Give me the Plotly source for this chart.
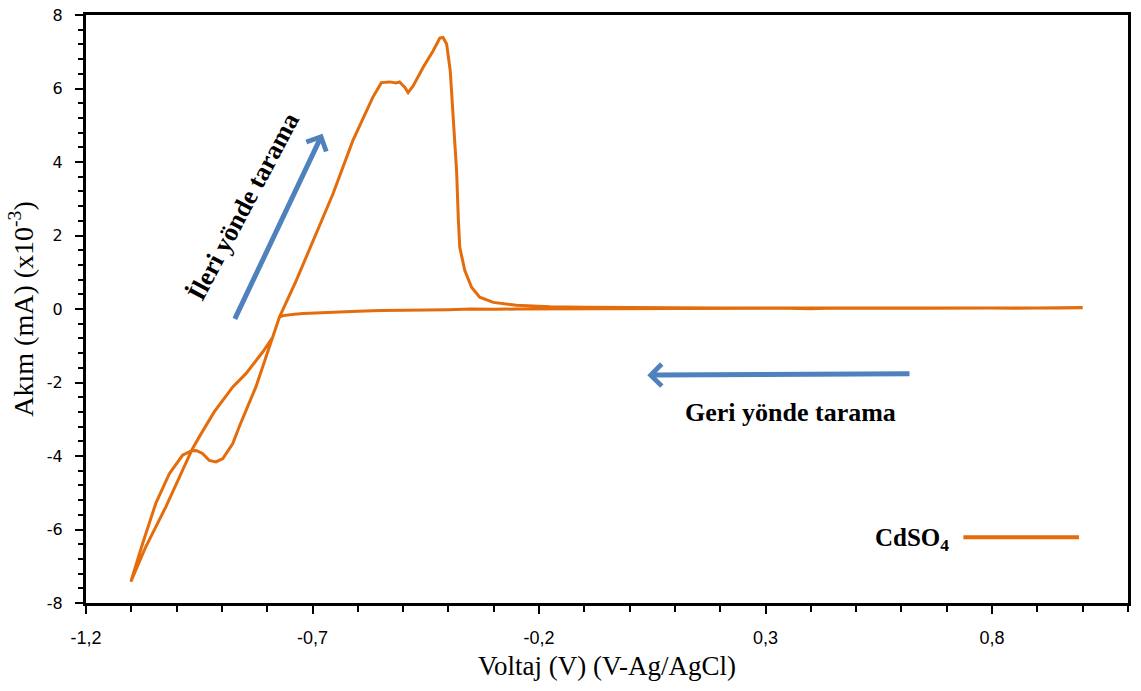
import plotly.graph_objects as go

# Cyclic voltammogram of CdSO4 — backward scan from +1.0 V, then forward scan
scan_voltage = [
    1.00, 0.95, 0.90, 0.85, 0.80, 0.75, 0.70, 0.65, 0.60, 0.55, 0.50, 0.45, 0.40,
    0.35, 0.30, 0.25, 0.20, 0.15, 0.10, 0.05, 0.00, -0.05, -0.10, -0.15, -0.20,
    -0.25, -0.30, -0.35, -0.40, -0.45, -0.50, -0.55, -0.60, -0.65, -0.70, -0.72,
    -0.74, -0.755, -0.765, -0.773,
    -0.788, -0.810, -0.847, -0.876, -0.917, -0.950, -0.965, -0.987, -1.024,
    -1.068, -1.101,
    -1.075, -1.046, -1.016, -0.987, -0.968, -0.957, -0.943, -0.928, -0.913,
    -0.898, -0.876, -0.862, -0.825, -0.795, -0.773, -0.736, -0.699, -0.655,
    -0.611, -0.581, -0.567, -0.548, -0.530, -0.515, -0.508, -0.496, -0.489,
    -0.478, -0.456, -0.434, -0.419, -0.412, -0.404, -0.396, -0.389, -0.382,
    -0.378, -0.375, -0.364, -0.349, -0.331, -0.301, -0.250, -0.176, -0.100,
    0.00, 0.20, 0.40, 0.60, 0.80, 1.00,
]
scan_current = [
    0.04, 0.03, 0.04, 0.02, 0.03, 0.02, 0.03, 0.02, 0.03, 0.02, 0.02, 0.03, 0.01,
    0.02, 0.02, 0.01, 0.02, 0.01, 0.02, 0.01, 0.01, 0.01, 0.00, 0.01, 0.00,
    0.00, -0.01, 0.00, -0.02, -0.02, -0.03, -0.04, -0.06, -0.08, -0.11, -0.12,
    -0.14, -0.16, -0.18, -0.22,
    -0.77, -1.17, -1.76, -2.12, -2.80, -3.48, -3.80, -4.39, -5.39,
    -6.47, -7.42,
    -6.38, -5.29, -4.48, -3.98, -3.86, -3.85, -3.93, -4.12, -4.16,
    -4.07, -3.66, -3.21, -2.12, -1.04, -0.22, 0.77, 1.86, 3.13,
    4.58, 5.39, 5.76, 6.16, 6.18, 6.15, 6.18, 6.03, 5.89,
    6.07, 6.57, 7.02, 7.37, 7.39, 7.21, 6.48, 5.12, 3.76,
    2.40, 1.68, 1.05, 0.59, 0.32, 0.18, 0.10, 0.06, 0.05,
    0.04, 0.03, 0.03, 0.03, 0.03, 0.03,
]

x_tick_values = [-1.2, -0.7, -0.2, 0.3, 0.8]
x_tick_labels = ["-1,2", "-0,7", "-0,2", "0,3", "0,8"]
y_tick_values = [-8, -6, -4, -2, 0, 2, 4, 6, 8]
y_tick_labels = ["-8", "-6", "-4", "-2", "0", "2", "4", "6", "8"]

# Scan-direction arrows: (tail_x, tail_y, head_x, head_y)
forward_arrow = (-0.873, -0.31, -0.678, 4.77)
backward_arrow = (0.621, -1.76, 0.039, -1.80)

ORANGE = "#E46C0A"
BLUE = "#4F81BD"
SERIF = "Liberation Serif, Times New Roman, serif"

fig = go.Figure()
fig.add_trace(go.Scatter(
    x=scan_voltage, y=scan_current, mode="lines", name="CdSO4",
    line=dict(color=ORANGE, width=3), showlegend=False,
))

axis_common = dict(
    showline=True, linecolor="black", linewidth=3, mirror=True,
    showgrid=False, zeroline=False, ticks="outside", tickcolor="black",
    tickwidth=2, ticklen=8, automargin=False,
)
fig.update_xaxes(
    range=[-1.2, 1.1], tickmode="array", tickvals=x_tick_values,
    ticktext=x_tick_labels,
    tickfont=dict(family="Liberation Sans Narrow, Arial Narrow, sans-serif",
                  size=18, color="black"),
    ticklabelstandoff=8,
    minor=dict(tick0=-1.2, dtick=0.1, ticks="outside", ticklen=6,
               tickwidth=2, tickcolor="black"),
    title=dict(text="Voltaj (V) (V-Ag/AgCl)", standoff=10,
               font=dict(family=SERIF, size=27, color="black")),
    **axis_common,
)
fig.update_yaxes(
    range=[-8, 8], tickmode="array", tickvals=y_tick_values,
    ticktext=y_tick_labels,
    tickfont=dict(family="DejaVu Sans, Verdana, sans-serif", size=16,
                  color="black"),
    ticklabelstandoff=9,
    minor=dict(tick0=-8, dtick=0.4, ticks="outside", ticklen=5,
               tickwidth=2, tickcolor="black"),
    title=dict(text="Akım (mA) (x10<sup>-3</sup>)", standoff=6,
               font=dict(family=SERIF, size=28, color="black")),
    **axis_common,
)

for tx, ty, hx, hy in (forward_arrow, backward_arrow):
    fig.add_annotation(
        x=hx, y=hy, ax=tx, ay=ty, xref="x", yref="y", axref="x", ayref="y",
        text="", showarrow=True, arrowhead=4, arrowsize=0.85, arrowwidth=5,
        arrowcolor=BLUE, standoff=0,
    )

fig.add_annotation(
    x=-0.853, y=2.80, xref="x", yref="y", text="<b>İleri yönde tarama</b>",
    textangle=-62, showarrow=False,
    font=dict(family=SERIF, size=26, color="black"),
)
fig.add_annotation(
    x=0.355, y=-2.82, xref="x", yref="y", text="<b>Geri yönde tarama</b>",
    showarrow=False, font=dict(family=SERIF, size=26, color="black"),
)

# Legend drawn beside the series sample line
fig.add_annotation(
    x=0.830, y=0.108, xref="paper", yref="paper", xanchor="right",
    yanchor="middle", text="<b>CdSO<sub>4</sub></b>", showarrow=False,
    font=dict(family=SERIF, size=25, color="black"),
)
fig.add_shape(
    type="line", xref="paper", yref="paper", x0=0.842, x1=0.953,
    y0=0.112, y1=0.112, line=dict(color=ORANGE, width=4),
)

fig.update_layout(
    width=1141, height=691, margin=dict(l=86, r=13, t=15, b=88),
    paper_bgcolor="white", plot_bgcolor="white",
)

fig.write_html("out.html")
